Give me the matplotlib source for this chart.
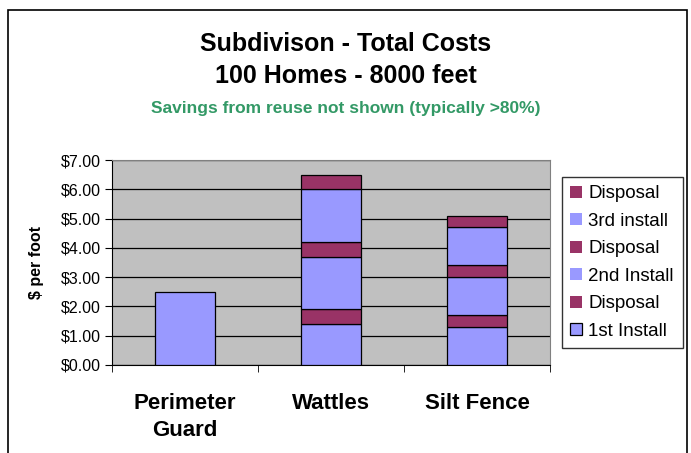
import matplotlib.pyplot as plt
from matplotlib.patches import Rectangle
import numpy as np

plt.rcParams['font.family'] = ['Liberation Sans', 'DejaVu Sans']

categories = ['Perimeter\nGuard', 'Wattles', 'Silt Fence']
series_names = ['1st Install', 'Disposal', '2nd Install', 'Disposal', '3rd install', 'Disposal']
first_install = [2.5, 1.4, 1.3]
disposal_1 = [0.0, 0.5, 0.4]
second_install = [0.0, 1.8, 1.3]
disposal_2 = [0.0, 0.5, 0.4]
third_install = [0.0, 1.8, 1.3]
disposal_3 = [0.0, 0.5, 0.4]

blue = '#9999FF'
purple = '#993366'
series = [first_install, disposal_1, second_install, disposal_2, third_install, disposal_3]
colors = [blue, purple, blue, purple, blue, purple]

fig = plt.figure(figsize=(6.91, 4.53), dpi=100)
# outer chart border
fig.patches.append(Rectangle((8 / 691, -0.1), 679 / 691, 1.1 - 10 / 453,
                             transform=fig.transFigure, fill=False,
                             edgecolor='black', linewidth=1.2))

ax = fig.add_axes([112 / 691, 88 / 453, 438 / 691, 205 / 453])
ax.set_facecolor('#C0C0C0')

x = np.arange(len(categories))
bottom = np.zeros(len(categories))
handles = []
for vals, col, name in zip(series, colors, series_names):
    vals = np.array(vals)
    lw = [0.9 if v > 0 else 0 for v in vals]
    b = ax.bar(x, vals, 0.41, bottom=bottom, color=col, edgecolor='black',
               linewidth=lw, label=name, zorder=3)
    handles.append(b)
    bottom += vals

ax.set_xlim(-0.5, 2.5)
ax.set_ylim(0, 7)
ax.set_yticks(np.arange(0, 8, 1))
ax.set_yticklabels([f'${v:.2f}' for v in range(8)], fontsize=11.5)
ax.yaxis.grid(True, color='black', linewidth=0.9)
ax.set_axisbelow(True)

ax.set_xticks(x)
ax.set_xticklabels(categories, fontsize=16, fontweight='bold', linespacing=1.38)
ax.tick_params(axis='x', length=0, pad=20)
ax.set_xticks([-0.5, 0.5, 1.5, 2.5], minor=True)
ax.tick_params(axis='x', which='minor', length=5, color='black')
ax.tick_params(axis='y', length=5, color='black', pad=3)

for s in ['left', 'bottom']:
    ax.spines[s].set_color('black')
for s in ['top', 'right']:
    ax.spines[s].set_color('#808080')

ax.set_ylabel('$ per foot', fontsize=11.5, fontweight='bold', labelpad=12)

leg = ax.legend(handles[::-1], [h.get_label() for h in handles[::-1]],
                loc='upper left', bbox_to_anchor=(562 / 691, 276 / 453, 121 / 691, 1e-9),
                bbox_transform=fig.transFigure, mode='expand',
                fontsize=13.5, frameon=True, fancybox=False, edgecolor='black',
                handlelength=0.6, handleheight=0.6, handletextpad=0.35,
                labelspacing=0.56, borderpad=0.45, borderaxespad=0)
leg.get_frame().set_linewidth(1.0)

fig.text(0.5, 1 - 44 / 453, 'Subdivison - Total Costs', ha='center', va='center',
         fontsize=18, fontweight='bold')
fig.text(0.5, 1 - 76 / 453, '100 Homes - 8000 feet', ha='center', va='center',
         fontsize=18, fontweight='bold')
fig.text(0.5, 1 - 108 / 453, 'Savings from reuse not shown (typically >80%)',
         ha='center', va='center', fontsize=12.5, fontweight='bold', color='#339966')

fig.savefig('out.png', dpi=100)
